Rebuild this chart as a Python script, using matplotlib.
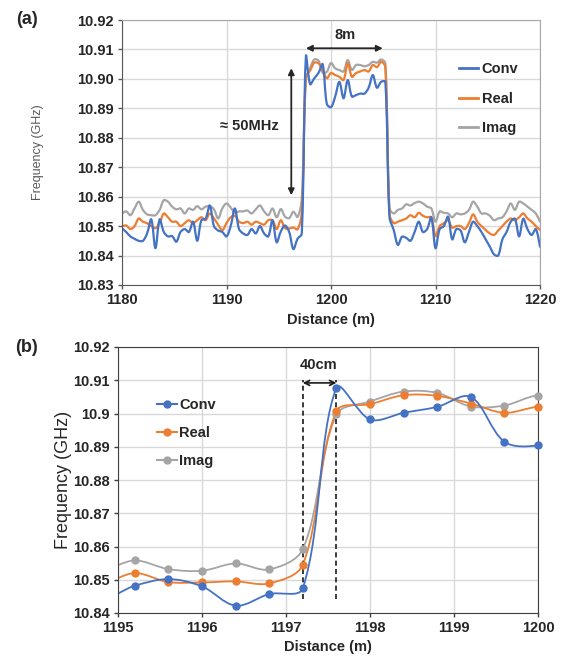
import numpy as np
import matplotlib
matplotlib.use("Agg")
import matplotlib.pyplot as plt
from matplotlib.path import Path
from matplotlib.patches import PathPatch
from matplotlib.lines import Line2D
from matplotlib.ticker import FuncFormatter

plt.rcParams['font.family'] = ['Liberation Sans', 'DejaVu Sans']

# ---------------- data (distance step 0.4 m) ----------------
distance = [1180.0 + 0.4 * i for i in range(101)]

conv = [10.8493, 10.8480, 10.8465, 10.8457, 10.8450, 10.8450, 10.8475, 10.8523, 10.8425, 10.8523,
        10.8480, 10.8465, 10.8466, 10.8447, 10.8480, 10.8490, 10.8480, 10.8515, 10.8450, 10.8520,
        10.8525, 10.8570, 10.8500, 10.8485, 10.8480, 10.8465, 10.8500, 10.8560, 10.8490, 10.8475,
        10.8470, 10.8490, 10.8475, 10.8500, 10.8475, 10.8465, 10.8520, 10.8445, 10.8482, 10.8502,
        10.8480, 10.8422, 10.8457, 10.8474, 10.9077, 10.8982, 10.9002, 10.9020, 10.9050, 10.8915,
        10.8904, 10.8940, 10.8990, 10.8934, 10.8996, 10.8940, 10.8945, 10.8950, 10.8950, 10.8970,
        10.9013, 10.8970, 10.8990, 10.8990, 10.8530, 10.8487, 10.8436, 10.8464, 10.8460, 10.8450,
        10.8480, 10.8515, 10.8480, 10.8490, 10.8530, 10.8425, 10.8490, 10.8500, 10.8532, 10.8455,
        10.8490, 10.8485, 10.8445, 10.8480, 10.8515, 10.8500, 10.8480, 10.8455, 10.8430, 10.8404,
        10.8400, 10.8455, 10.8480, 10.8515, 10.8525, 10.8465, 10.8525, 10.8490, 10.8470, 10.8490,
        10.8430]

real = [10.8500, 10.8502, 10.8490, 10.8500, 10.8526, 10.8515, 10.8510, 10.8500, 10.8493, 10.8510,
        10.8543, 10.8530, 10.8515, 10.8515, 10.8500, 10.8510, 10.8520, 10.8510, 10.8520, 10.8530,
        10.8520, 10.8543, 10.8526, 10.8505, 10.8486, 10.8510, 10.8530, 10.8535, 10.8515, 10.8510,
        10.8515, 10.8505, 10.8515, 10.8510, 10.8505, 10.8520, 10.8520, 10.8490, 10.8520, 10.8493,
        10.8492, 10.8495, 10.8489, 10.8545, 10.9007, 10.9028, 10.9055, 10.9053, 10.9030, 10.9002,
        10.9020, 10.9013, 10.9007, 10.8996, 10.9053, 10.9007, 10.9020, 10.9025, 10.9030, 10.9025,
        10.9047, 10.9040, 10.9058, 10.9040, 10.8540, 10.8510, 10.8515, 10.8520, 10.8526, 10.8537,
        10.8530, 10.8545, 10.8535, 10.8530, 10.8530, 10.8466, 10.8500, 10.8510, 10.8520, 10.8495,
        10.8500, 10.8500, 10.8490, 10.8510, 10.8540, 10.8515, 10.8500, 10.8487, 10.8475, 10.8470,
        10.8485, 10.8500, 10.8515, 10.8526, 10.8520, 10.8530, 10.8543, 10.8526, 10.8515, 10.8500,
        10.8487]

imag = [10.8543, 10.8550, 10.8537, 10.8560, 10.8583, 10.8555, 10.8540, 10.8537, 10.8537, 10.8555,
        10.8588, 10.8583, 10.8566, 10.8557, 10.8560, 10.8543, 10.8560, 10.8555, 10.8568, 10.8557,
        10.8566, 10.8568, 10.8557, 10.8526, 10.8560, 10.8577, 10.8563, 10.8545, 10.8550, 10.8550,
        10.8553, 10.8543, 10.8557, 10.8570, 10.8550, 10.8537, 10.8560, 10.8530, 10.8558, 10.8532,
        10.8527, 10.8549, 10.8531, 10.8592, 10.8997, 10.9036, 10.9066, 10.9062, 10.9021, 10.9024,
        10.9054, 10.9036, 10.9030, 10.9025, 10.9064, 10.9030, 10.9047, 10.9047, 10.9043, 10.9047,
        10.9058, 10.9055, 10.9066, 10.9053, 10.8560, 10.8543, 10.8555, 10.8560, 10.8574, 10.8570,
        10.8578, 10.8583, 10.8577, 10.8566, 10.8560, 10.8515, 10.8550, 10.8545, 10.8543, 10.8530,
        10.8543, 10.8540, 10.8543, 10.8555, 10.8583, 10.8566, 10.8543, 10.8543, 10.8535, 10.8520,
        10.8526, 10.8530, 10.8550, 10.8577, 10.8555, 10.8583, 10.8577, 10.8566, 10.8555, 10.8543,
        10.8515]

series_names = ['Conv', 'Real', 'Imag']
series_colors = ['#4472C4', '#ED7D31', '#A5A5A5']
a_xticks = [1180, 1190, 1200, 1210, 1220]
a_yticks = [10.83, 10.84, 10.85, 10.86, 10.87, 10.88, 10.89, 10.90, 10.91, 10.92]
b_xticks = [1195, 1196, 1197, 1198, 1199, 1200]
b_yticks = [10.84, 10.85, 10.86, 10.87, 10.88, 10.89, 10.90, 10.91, 10.92]

TXT = '#262626'
GRID = '#D9D9D9'


def smooth_patch(ax, x, y, color, lw, sx, sy):
    """Excel-like smoothed line (cubic Bezier) in data coords.
    sx, sy: pixels per data unit, used to weigh tangents by segment length."""
    x = np.asarray(x, float)
    y = np.asarray(y, float)
    n = len(x)
    px, py = x * sx, y * sy
    seg = np.hypot(np.diff(px), np.diff(py))

    def tangent(i):
        # tangent (in data units) at point i, for the two adjacent segments
        i0 = max(i - 1, 0)
        i2 = min(i + 1, n - 1)
        return np.array([x[i2] - x[i0], y[i2] - y[i0]])

    verts = [(x[0], y[0])]
    codes = [Path.MOVETO]
    for i in range(n - 1):
        d_cur = seg[i]
        d_prev = seg[i - 1] if i > 0 else d_cur
        d_next = seg[i + 1] if i + 1 < n - 1 else d_cur
        t1 = tangent(i)
        t2 = tangent(i + 1)
        f1 = d_cur / (d_prev + d_cur) / 3.0 if (d_prev + d_cur) > 0 else 0
        f2 = d_cur / (d_cur + d_next) / 3.0 if (d_cur + d_next) > 0 else 0
        if i == 0:
            f1 = 1 / 6.0
        if i + 1 == n - 1:
            f2 = 1 / 6.0
        c1 = (x[i] + t1[0] * f1, y[i] + t1[1] * f1)
        c2 = (x[i + 1] - t2[0] * f2, y[i + 1] - t2[1] * f2)
        verts += [c1, c2, (x[i + 1], y[i + 1])]
        codes += [Path.CURVE4] * 3
    patch = PathPatch(Path(verts, codes), fill=False, edgecolor=color,
                      linewidth=lw, capstyle='round', joinstyle='round')
    ax.add_patch(patch)
    return patch


fig = plt.figure(figsize=(5.66, 6.64), dpi=100)

# ---------------- panel (a) ----------------
axA = fig.add_axes([122 / 566, (664 - 285) / 664, 418 / 566, 265 / 664])
axA.set_xlim(1180, 1220)
axA.set_ylim(10.83, 10.92)
sxA, syA = 418 / 40.0, 265 / 0.09
for yv, nm, col in zip([conv, real, imag][::-1], series_names[::-1], series_colors[::-1]):
    smooth_patch(axA, distance, yv, col, 1.6, sxA, syA)
axA.set_xticks(a_xticks)
axA.set_yticks(a_yticks)
axA.yaxis.set_major_formatter(FuncFormatter(lambda v, p: '%.2f' % v))
axA.grid(True, color=GRID, linewidth=1.0)
axA.set_axisbelow(True)
for s in ['left', 'bottom']:
    axA.spines[s].set_color('#595959')
for s in ['top', 'right']:
    axA.spines[s].set_color('#A6A6A6')
axA.tick_params(direction='out', length=3, width=1, color='#595959',
                labelsize=10.5, labelcolor=TXT, pad=3)
for lab in axA.get_xticklabels() + axA.get_yticklabels():
    lab.set_fontweight('bold')
axA.set_xlabel('Distance (m)', fontsize=10.5, fontweight='bold', color=TXT, labelpad=4)
axA.set_ylabel('Frequency (GHz)', fontsize=9, color='#595959', labelpad=24)

# annotations (a)
axA.annotate('', xy=(1197.6, 10.9104), xytext=(1204.95, 10.9104),
             arrowprops=dict(arrowstyle='<|-|>', color='#262626', lw=1.3,
                             mutation_scale=9, shrinkA=0, shrinkB=0))
axA.text(1201.3, 10.9148, '8m', ha='center', va='center', fontsize=10.5,
         fontweight='bold', color=TXT)
axA.annotate('', xy=(1196.2, 10.9036), xytext=(1196.2, 10.8605),
             arrowprops=dict(arrowstyle='<|-|>', color='#262626', lw=1.3,
                             mutation_scale=9, shrinkA=0, shrinkB=0))
axA.text(1192.2, 10.884, '≈ 50MHz', ha='center', va='center', fontsize=10.5,
         fontweight='bold', color=TXT)

hA = [Line2D([], [], color=c, lw=2) for c in series_colors]
legA = axA.legend(hA, series_names, loc='upper left', bbox_to_anchor=(0.806, 0.84),
                  frameon=False, fontsize=10.5, handlelength=1.3, handletextpad=0.25,
                  labelspacing=1.05, borderpad=0, borderaxespad=0)
for t in legA.get_texts():
    t.set_fontweight('bold')
    t.set_color(TXT)

fig.text(27 / 566, 1 - 19 / 664, '(a)', ha='center', va='center', fontsize=13,
         fontweight='bold', color=TXT)

# ---------------- panel (b) ----------------
axB = fig.add_axes([118 / 566, (664 - 613) / 664, 420 / 566, 266 / 664])
axB.set_xlim(1195, 1200)
axB.set_ylim(10.84, 10.92)
sxB, syB = 420 / 5.0, 266 / 0.08
dist_arr = np.asarray(distance)
mask = (dist_arr >= 1195 - 1e-9) & (dist_arr <= 1200 + 1e-9)
for yv, nm, col in zip([conv, real, imag][::-1], series_names[::-1], series_colors[::-1]):
    smooth_patch(axB, distance, yv, col, 1.3, sxB, syB)
    axB.plot(dist_arr[mask], np.asarray(yv)[mask], 'o', color=col, markersize=5,
             linestyle='none', clip_on=False, zorder=3)
axB.set_xticks(b_xticks)
axB.set_yticks(b_yticks)
axB.yaxis.set_major_formatter(FuncFormatter(lambda v, p: ('%.2f' % v).rstrip('0').rstrip('.')))
axB.grid(True, color=GRID, linewidth=1.0)
axB.set_axisbelow(True)
for s in ['left', 'bottom', 'top', 'right']:
    axB.spines[s].set_color('#404040')
axB.tick_params(direction='out', length=3, width=1, color='#404040',
                labelsize=10.5, labelcolor=TXT, pad=3)
for lab in axB.get_xticklabels() + axB.get_yticklabels():
    lab.set_fontweight('bold')
axB.set_xlabel('Distance (m)', fontsize=10.5, fontweight='bold', color=TXT, labelpad=3)
axB.set_ylabel('Frequency (GHz)', fontsize=13, color=TXT, labelpad=1)

# annotations (b)
for xv in [1197.2, 1197.6]:
    axB.plot([xv, xv], [10.8442, 10.9102], linestyle=(0, (3, 2)), color='#1a1a1a', lw=1.2)
axB.annotate('', xy=(1197.2, 10.9092), xytext=(1197.6, 10.9092),
             arrowprops=dict(arrowstyle='<->', color='#1a1a1a', lw=1.2,
                             mutation_scale=9, shrinkA=0, shrinkB=0))
axB.text(1197.385, 10.9146, '40cm', ha='center', va='center', fontsize=10.5,
         fontweight='bold', color=TXT)

hB = [Line2D([], [], color=c, lw=1.5, marker='o', markersize=5) for c in series_colors]
legB = axB.legend(hB, series_names, loc='upper left', bbox_to_anchor=(0.093, 0.807),
                  frameon=False, fontsize=10.5, handlelength=1.4, handletextpad=0.1,
                  labelspacing=0.95, borderpad=0, borderaxespad=0)
for t in legB.get_texts():
    t.set_fontweight('bold')
    t.set_color(TXT)

fig.text(27 / 566, 1 - 348 / 664, '(b)', ha='center', va='center', fontsize=13,
         fontweight='bold', color=TXT)

fig.savefig('out.png', dpi=100)
